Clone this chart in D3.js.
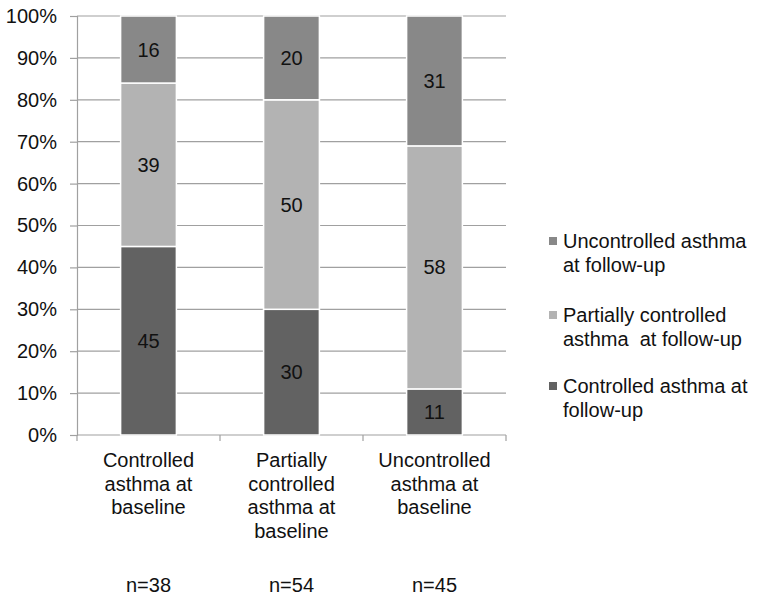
<!DOCTYPE html>
<html><head><meta charset="utf-8">
<script src="https://cdn.jsdelivr.net/npm/d3@7"></script>
<style>body{margin:0;background:#fff}svg{display:block;font-family:"Liberation Sans",Arial,sans-serif}</style>
</head><body><svg id="c" width="760" height="600"></svg>
<script>
const categories = [["Controlled","asthma at","baseline"],["Partially","controlled","asthma at","baseline"],["Uncontrolled","asthma at","baseline"]];
const nLabels = ["n=38","n=54","n=45"];
const seriesNames = [["Controlled asthma at","follow-up"],["Partially controlled","asthma  at follow-up"],["Uncontrolled asthma","at follow-up"]];
const controlled = [45,30,11];
const partial = [39,50,58];
const uncontrolled = [16,20,31];
const colors = ["#626262","#b3b3b3","#888888"];
const yTicks = [0,10,20,30,40,50,60,70,80,90,100];

const FS = 20;
const svg = d3.select("#c");
const x0 = 77, x1 = 506, yT = 16, yB = 435;
const x = d3.scaleBand().domain([0,1,2]).range([x0,x1]).paddingInner(0.61).paddingOuter(0.305);
const y = d3.scaleLinear().domain([0,100]).range([yB,yT]);

// gridlines
svg.append("g").selectAll("line").data(yTicks.filter(d=>d>0)).join("line")
  .attr("x1",x0).attr("x2",x1).attr("y1",d=>y(d)).attr("y2",d=>y(d))
  .attr("stroke","#a0a0a0").attr("stroke-width",1.2);

// y axis
const yAxis = svg.append("g").attr("transform",`translate(${x0},0)`)
  .call(d3.axisLeft(y).tickValues(yTicks).tickFormat(d=>d+"%").tickSize(7).tickPadding(13));
yAxis.select(".domain").attr("stroke","#a0a0a0").attr("stroke-width",1.2);
yAxis.selectAll(".tick line").attr("stroke","#a0a0a0").attr("stroke-width",1.2);
yAxis.selectAll("text").attr("font-size",FS).attr("fill","#111").attr("font-family","Liberation Sans, Arial, sans-serif");

// x axis
const xb = d3.scaleLinear().domain([0,3]).range([x0,x1]);
svg.append("line").attr("x1",x0).attr("x2",x1).attr("y1",yB).attr("y2",yB).attr("stroke","#a0a0a0").attr("stroke-width",1.2);
svg.append("g").selectAll("line").data([0,1,2,3]).join("line")
  .attr("x1",d=>xb(d)).attr("x2",d=>xb(d)).attr("y1",yB).attr("y2",yB+6)
  .attr("stroke","#a0a0a0").attr("stroke-width",1.2);

// stacked bars
const rows = [0,1,2].map(i=>({i,c:controlled[i],p:partial[i],u:uncontrolled[i]}));
const stack = d3.stack().keys(["c","p","u"])(rows);
stack.forEach((s,k)=>{
  const g = svg.append("g");
  g.selectAll("rect").data(s).join("rect")
    .attr("x",d=>x(d.data.i)).attr("width",x.bandwidth())
    .attr("y",d=>y(d[1])).attr("height",d=>y(d[0])-y(d[1]))
    .attr("fill",colors[k]).attr("stroke","#fff").attr("stroke-width",1.5);
  g.selectAll("text").data(s).join("text")
    .attr("x",d=>x(d.data.i)+x.bandwidth()/2).attr("y",d=>(y(d[0])+y(d[1]))/2+7)
    .attr("text-anchor","middle")
    .attr("font-size",FS).attr("fill","#111").text(d=>d[1]-d[0]);
});

// category labels
categories.forEach((lines,i)=>{
  const t = svg.append("text").attr("text-anchor","middle").attr("font-size",FS).attr("fill","#111");
  lines.forEach((l,j)=>t.append("tspan").attr("x",x(i)+x.bandwidth()/2).attr("y",467+j*23.5).text(l));
  svg.append("text").attr("x",x(i)+x.bandwidth()/2).attr("y",592).attr("text-anchor","middle")
    .attr("font-size",FS).attr("fill","#111").text(nLabels[i]);
});

// legend
const legY = [248,322,393];
[2,1,0].forEach((k,idx)=>{
  const yy = legY[idx];
  svg.append("rect").attr("x",549).attr("y",yy-11).attr("width",8).attr("height",8).attr("fill",colors[k]);
  const t = svg.append("text").attr("font-size",FS).attr("fill","#111").attr("xml:space","preserve");
  seriesNames[k].forEach((l,j)=>t.append("tspan").attr("x",563).attr("y",yy+j*24).text(l));
});
</script></body></html>
